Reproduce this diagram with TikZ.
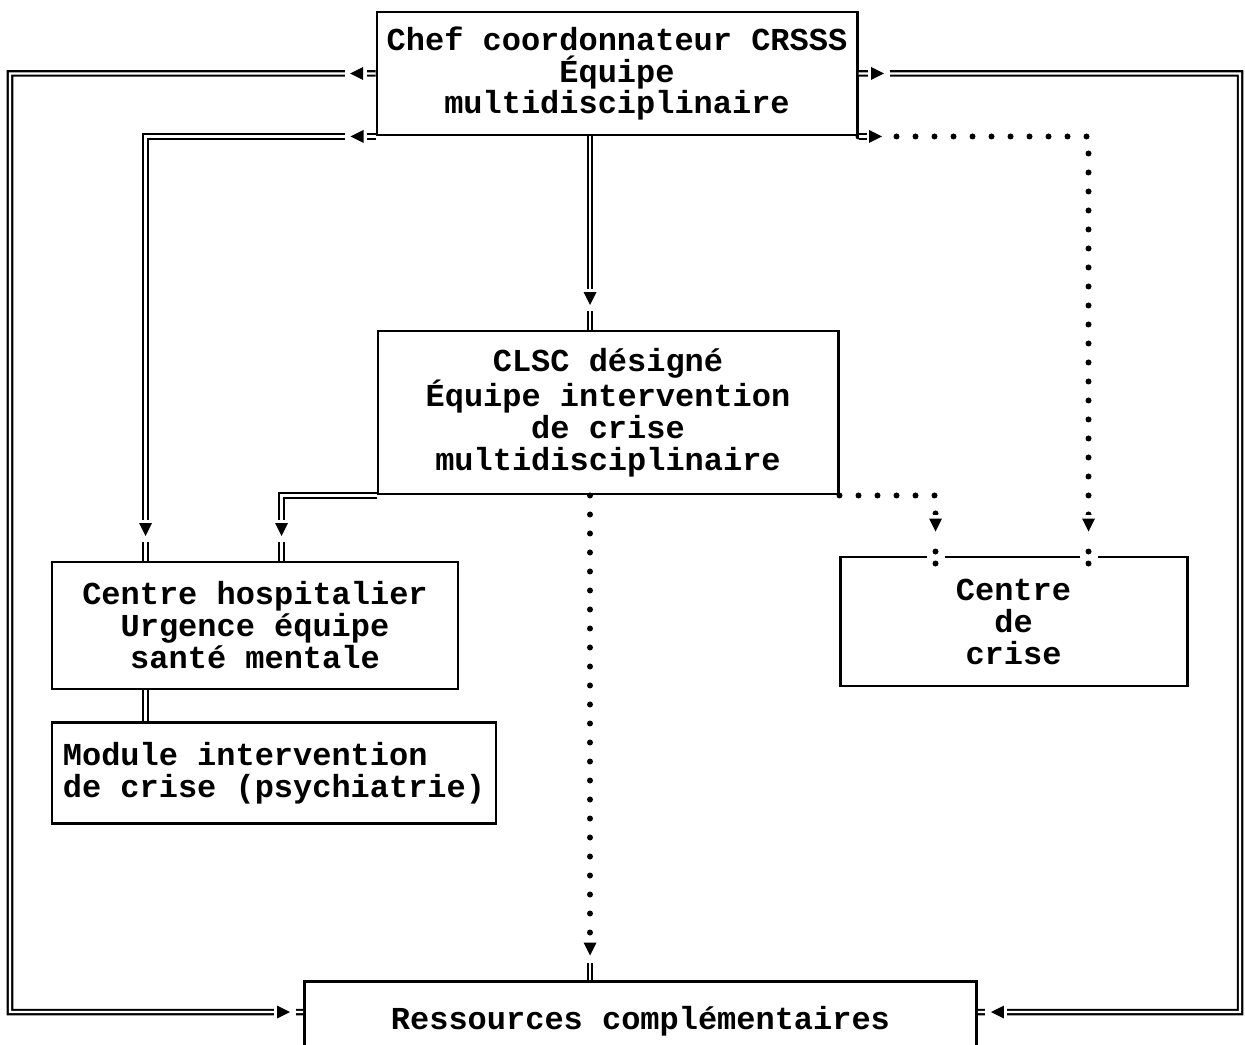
\documentclass[tikz,border=0pt]{standalone}
\usepackage{fontspec}
\setmonofont{Liberation Mono}
\usetikzlibrary{positioning, calc, decorations.markings}

\newcommand{\boxfont}{\fontsize{18.2pt}{18.2pt}\selectfont\ttfamily\bfseries}
% arrow head with a white gap round it
\newcommand{\flowtip}{%
  \fill[white] (-0.2,-0.16) rectangle (0.24,0.16);
  \fill[black] (-0.13,-0.13) -- (0.13,0) -- (-0.13,0.13) -- cycle;}
% dotted end: arrow head, then a colon across the box border
\newcommand{\colontip}{%
  \fill[white] (-0.2,-0.18) rectangle (0.9,0.18);
  \fill[black] (-0.13,-0.13) -- (0.13,0) -- (-0.13,0.13) -- cycle;
  \fill[black] (0.53,0) circle (0.06) (0.77,0) circle (0.06);}
% dotted end: arrow head, then a short double stub
\newcommand{\stubtip}{%
  \fill[white] (-0.2,-0.16) rectangle (0.62,0.16);
  \fill[black] (-0.13,-0.13) -- (0.13,0) -- (-0.13,0.13) -- cycle;
  \draw[solid, line cap=butt, double, line width=1.2pt, double distance=1.3pt] (0.28,0) -- (0.62,0);}
% dotted start: short double stub, then arrow head
\newcommand{\stubstart}{%
  \fill[white] (-0.34,-0.16) rectangle (0.22,0.16);
  \draw[solid, line cap=butt, double, line width=1.2pt, double distance=1.3pt] (-0.34,0) -- (-0.17,0);
  \fill[black] (-0.13,-0.13) -- (0.13,0) -- (-0.13,0.13) -- cycle;}

\begin{document}
\begin{tikzpicture}[
    box/.style={rectangle, draw, line width=1.7pt, align=center, inner sep=0pt, font=\boxfont},
    dbl/.style={double, line width=1.2pt, double distance=1.3pt},
    dots/.style={line width=0.12cm, line cap=round, dash pattern=on 0pt off 0.38cm},
    startmark/.style={postaction={decorate, decoration={markings, mark=at position #1 with {\flowtip}}}},
    endmark/.style={postaction={decorate, decoration={markings, mark=at position -#1 with {\flowtip}}}},
    colonmark/.style={postaction={decorate, decoration={markings, mark=at position -#1 with {\colontip}}}},
    stubmark/.style={postaction={decorate, decoration={markings, mark=at position -#1 with {\stubtip}}}},
    stubstartmark/.style={postaction={decorate, decoration={markings, mark=at position #1 with {\stubstart}}}}
]
\useasboundingbox (0,0) rectangle (24.9,-20.9);

% Boxes
\node[box, minimum width=9.6cm, minimum height=2.46cm] (chef) at (12.34,-1.47)
    {Chef coordonnateur CRSSS\\Équipe\\multidisciplinaire};
\node[box, minimum width=9.2cm, minimum height=3.26cm] (clsc) at (12.16,-8.25)
    {CLSC désigné\\Équipe intervention\\de crise\\multidisciplinaire};
\node[box, minimum width=8.12cm, minimum height=2.54cm] (hosp) at (5.10,-12.51)
    {Centre hospitalier\\Urgence équipe\\santé mentale};
\node[box, align=left, minimum width=8.88cm, minimum height=2.02cm,
      below=0.62cm of hosp.south west, anchor=north west] (module)
    {Module intervention\\de crise (psychiatrie)};
\node[box, minimum width=6.94cm, minimum height=2.58cm] (crise) at (20.27,-12.43)
    {Centre\\de\\crise};
\node[box, minimum width=13.44cm, minimum height=1.6cm, anchor=north west] (res) at (6.06,-19.6)
    {Ressources complémentaires};

% Bends
\coordinate (axis) at (11.8,0);
\coordinate (lbend) at (0.2,-20.24);
\coordinate (rbend) at (24.8,-20.24);

% Arrows
\draw[dbl, startmark=0.38cm, endmark=0.39cm] (chef.west) -| (lbend) -- ($(res.north west)+(0,-0.64)$);
\draw[dbl, startmark=0.38cm, endmark=0.39cm] (chef.east) -| (rbend) -- ($(res.north east)+(0,-0.64)$);
\draw[dbl, startmark=0.37cm, endmark=0.62cm] (chef.south west) -| ($(hosp.north west)+(1.9,0)$);
\draw[dots, stubstartmark=0.34cm, colonmark=0.61cm] (chef.south east) -| ($(crise.north west)+(5.0,0)$);
\draw[dbl, endmark=0.62cm] (chef.south -| axis) -- (clsc.north -| axis);
\draw[dbl, endmark=0.62cm] (clsc.south west) -| ($(hosp.north west)+(4.62,0)$);
\draw[dots, stubmark=0.62cm] (clsc.south -| axis) -- (res.north -| axis);
\draw[dots, colonmark=0.61cm] (clsc.south east) -| ($(crise.north west)+(1.94,0)$);
\draw[dbl] ($(hosp.south west)+(1.9,0)$) -- ($(module.north west)+(1.9,0)$);

\end{tikzpicture}
\end{document}
